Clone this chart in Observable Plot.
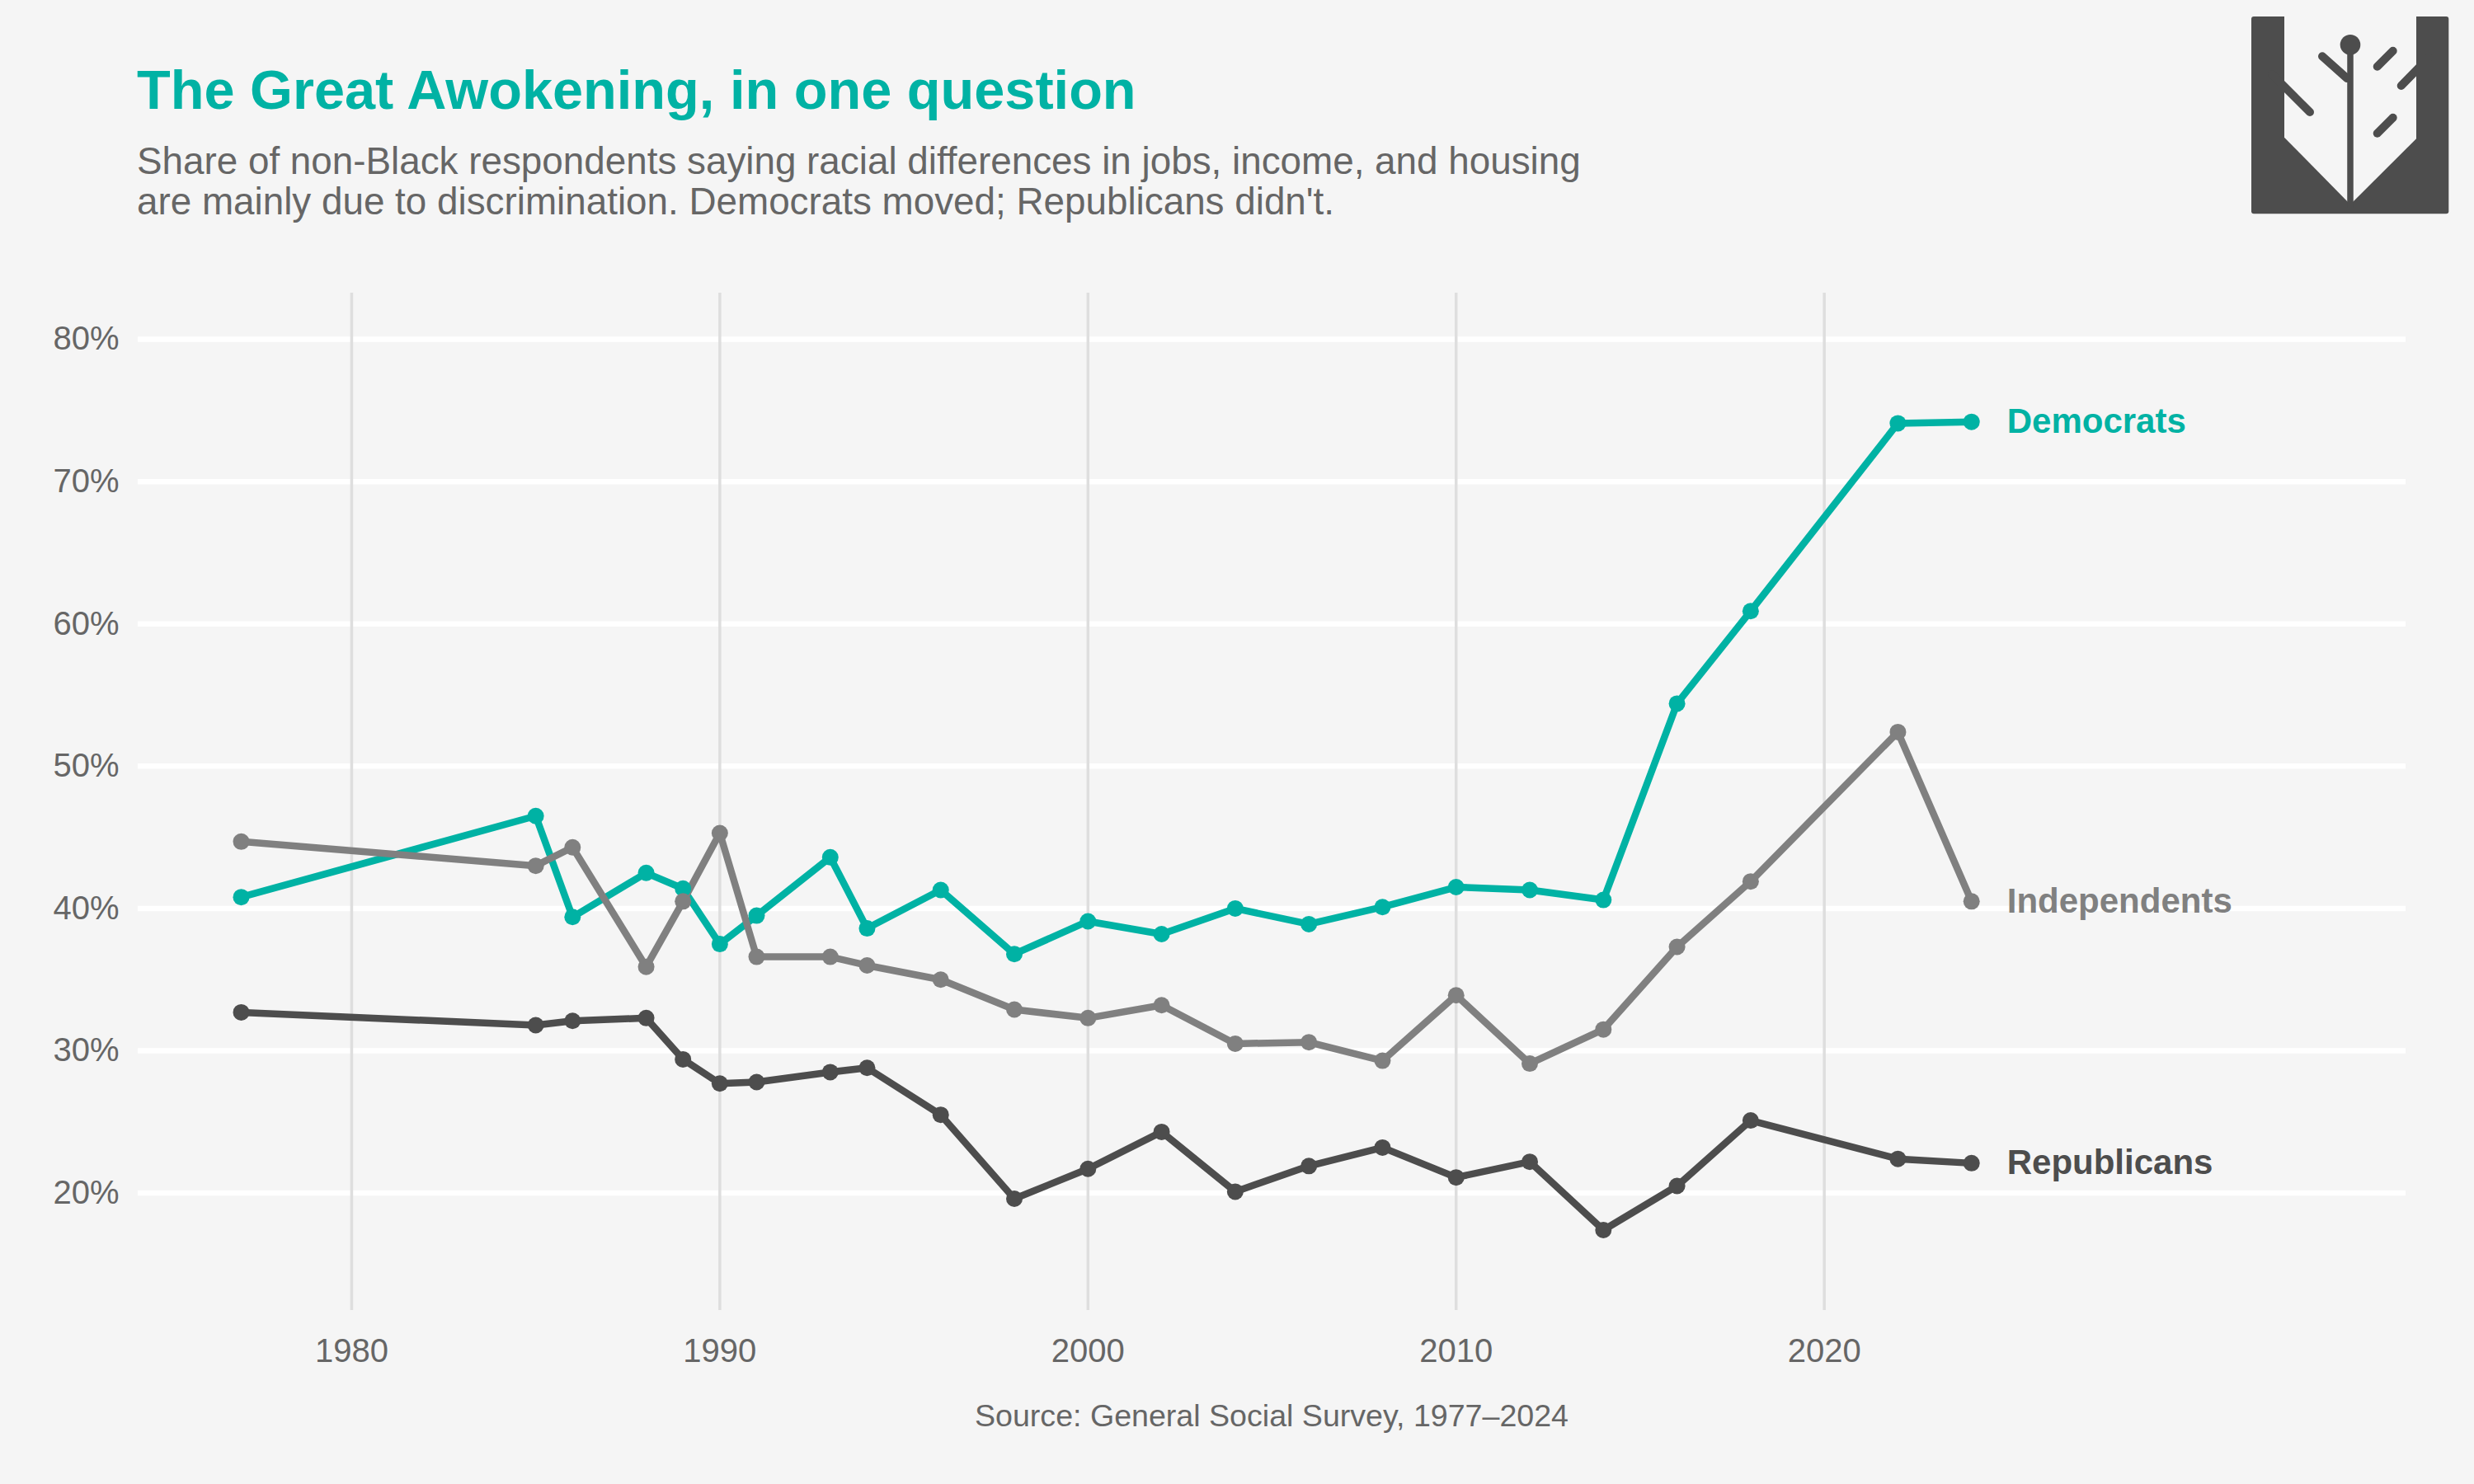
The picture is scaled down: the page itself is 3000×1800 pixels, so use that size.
<!DOCTYPE html>
<html>
<head>
<meta charset="utf-8">
<script src="https://cdn.jsdelivr.net/npm/d3@7"></script>
<script src="https://cdn.jsdelivr.net/npm/@observablehq/plot@0.6"></script>
<style>
html,body{margin:0;padding:0;background:#f5f5f5;}
#wrap{position:relative;width:3000px;height:1800px;background:#f5f5f5;font-family:"Liberation Sans",Arial,Helvetica,sans-serif;overflow:hidden;}
#title{position:absolute;left:166px;top:76px;font-size:66.7px;line-height:66px;font-weight:bold;color:#00b2a4;white-space:nowrap;}
#subtitle{position:absolute;left:166px;top:171px;font-size:45.8px;line-height:49px;color:#666666;white-space:nowrap;}
#chart{position:absolute;left:0;top:300px;}
#caption{position:absolute;left:167px;width:2750px;top:1699px;text-align:center;font-size:37.6px;line-height:37px;color:#666666;white-space:nowrap;}
#logo{position:absolute;left:2730px;top:20px;}
</style>
</head>
<body>
<div id="wrap">
  <div id="title">The Great Awokening, in one question</div>
  <div id="subtitle">Share of non-Black respondents saying racial differences in jobs, income, and housing<br>are mainly due to discrimination. Democrats moved; Republicans didn't.</div>
  <div id="chart"></div>
  <div id="caption">Source: General Social Survey, 1977–2024</div>
  <svg id="logo" width="240" height="240" viewBox="0 0 240 240">
    <rect x="0" y="0" width="239.3" height="239.3" rx="3" fill="#4d4d4d"/>
    <polygon points="40,0 40,146.7 120,228 200,148.3 200,0" fill="#f5f5f5"/>
    <line x1="120" y1="40" x2="120" y2="232" stroke="#4d4d4d" stroke-width="7.5"/>
    <circle cx="120" cy="34.3" r="12.3" fill="#4d4d4d"/>
    <g stroke="#4d4d4d" stroke-width="10" stroke-linecap="round">
      <line x1="86" y1="48.3" x2="116" y2="75"/>
      <line x1="25" y1="70" x2="71" y2="116"/>
      <line x1="152.7" y1="60.7" x2="171.7" y2="41.7"/>
      <line x1="181.7" y1="84" x2="215" y2="50"/>
      <line x1="152.7" y1="141.7" x2="171.7" y2="122.7"/>
    </g>
  </svg>
</div>
<script>
const years = [1977,1985,1986,1988,1989,1990,1991,1993,1994,1996,1998,2000,2002,2004,2006,2008,2010,2012,2014,2016,2018,2022,2024];
const democrats    = [40.8,46.5,39.4,42.5,41.4,37.5,39.5,43.6,38.6,41.3,36.8,39.1,38.2,40.0,38.9,40.1,41.5,41.3,40.6,54.4,60.9,74.1,74.2];
const independents = [44.7,43.0,44.3,35.9,40.5,45.3,36.6,36.6,36.0,35.0,32.9,32.3,33.2,30.5,30.6,29.3,33.9,29.1,31.5,37.3,41.9,52.4,40.5];
const republicans  = [32.7,31.8,32.1,32.3,29.4,27.7,27.8,28.5,28.8,25.5,19.6,21.7,24.3,20.1,21.9,23.2,21.1,22.2,17.4,20.5,25.1,22.4,22.1];
const parties = ["Democrats","Independents","Republicans"];
const partyColors = ["#00b2a4","#808080","#4d4d4d"];
const yTicks = [20,30,40,50,60,70,80];
const xTicks = [1980,1990,2000,2010,2020];

const series = [democrats, independents, republicans];
const rows = parties.flatMap((p,i) => years.map((yr,j) => ({party:p, year:yr, value:series[i][j]})));
const lastIdx = years.length - 1;
const last = parties.map((p,i) => ({party:p, year:years[lastIdx], value:series[i][lastIdx]}));

const chart = Plot.plot({
  width: 3000,
  height: 1360,
  marginLeft: 167,
  marginRight: 83,
  marginTop: 55,
  marginBottom: 71,
  style: {background:"transparent", fontFamily:"'Liberation Sans', Arial, Helvetica, sans-serif"},
  x: {domain:[1974.2, 2035.8]},
  y: {domain:[11.75, 83.25]},
  color: {domain:parties, range:partyColors},
  marks: [
    Plot.gridY(yTicks, {stroke:"#ffffff", strokeOpacity:1, strokeWidth:6.5}),
    Plot.gridX(xTicks, {stroke:"#dedede", strokeOpacity:1, strokeWidth:3.5}),
    Plot.axisY(yTicks, {tickSize:0, tickPadding:23, tickFormat:d => d + "%", fontSize:40, fill:"#666666", label:null}),
    Plot.axisX(xTicks, {tickSize:0, tickPadding:34, tickFormat:d => String(d), fontSize:40, fill:"#666666", label:null}),
    Plot.line(rows, {x:"year", y:"value", z:"party", stroke:"party", strokeWidth:8.5, strokeLinejoin:"round"}),
    Plot.dot(rows, {x:"year", y:"value", fill:"party", r:10}),
    Plot.text(last, {x:"year", y:"value", text:"party", fill:"party", dx:43, textAnchor:"start", fontSize:42, fontWeight:"bold"})
  ]
});
document.getElementById("chart").appendChild(chart);
</script>
</body>
</html>
